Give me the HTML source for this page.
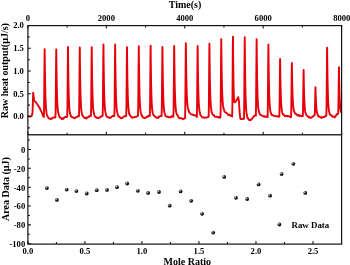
<!DOCTYPE html>
<html><head><meta charset="utf-8"><title>ITC chart</title>
<style>
html,body{margin:0;padding:0;background:#fff;}
body{width:350px;height:265px;overflow:hidden;}
svg{display:block;}
text{font-family:"Liberation Serif",serif;font-weight:bold;fill:#000;}
</style></head>
<body>
<svg width="350" height="265" viewBox="0 0 350 265">
<defs>
<radialGradient id="ball" cx="0.36" cy="0.34" r="0.7" fx="0.33" fy="0.3">
<stop offset="0" stop-color="#ffffff"/>
<stop offset="0.14" stop-color="#b0b0b0"/>
<stop offset="0.42" stop-color="#2c2c2c"/>
<stop offset="1" stop-color="#000000"/>
</radialGradient>
<filter id="soft" x="-5%" y="-5%" width="110%" height="110%" color-interpolation-filters="sRGB"><feGaussianBlur stdDeviation="0.25"/></filter>
</defs>
<rect width="350" height="265" fill="#ffffff"/>
<path d="M28.20,116.20 L30.50,116.50 L31.60,116.10 L32.50,113.00 L33.20,92.60 L33.70,97.50 L34.20,100.60 L35.20,101.60 L36.00,102.30 L36.80,103.60 L37.60,104.60 L38.40,106.00 L39.50,107.60 L40.50,109.80 L41.60,112.00 L42.60,114.40 L43.30,116.30 L43.80,116.90 L43.88,116.80 L44.07,108.59 L44.32,82.90 L44.55,57.21 L44.67,49.10 L44.85,65.93 L45.15,85.02 L45.45,96.78 L45.75,104.10 L46.05,108.72 L46.35,111.69 L46.65,113.65 L46.95,114.79 L47.25,115.56 L47.55,116.83 L47.85,116.75 L48.55,118.19 L49.25,118.61 L49.95,118.60 L50.66,119.15 L51.35,118.48 L52.05,118.63 L52.75,117.85 L53.45,117.48 L54.15,117.49 L54.85,117.66 L55.47,117.30 L55.66,109.06 L55.91,83.30 L56.15,57.54 L56.27,49.40 L56.45,65.93 L56.74,84.70 L57.05,96.27 L57.34,103.48 L57.65,108.02 L57.95,110.95 L58.24,112.88 L58.55,113.78 L58.84,114.83 L59.15,115.98 L59.45,116.87 L60.15,117.40 L60.84,117.84 L61.55,118.92 L62.25,118.15 L62.95,119.05 L63.65,118.16 L64.34,117.58 L65.05,117.07 L65.75,116.81 L66.44,117.02 L67.20,116.70 L67.41,108.24 L67.66,81.75 L67.88,55.26 L68.00,46.90 L68.19,64.25 L68.48,83.90 L68.78,96.00 L69.08,103.49 L69.38,108.18 L69.69,111.15 L69.98,113.09 L70.28,114.03 L70.58,115.36 L70.88,116.07 L71.19,116.26 L71.88,117.23 L72.58,117.21 L73.28,117.54 L73.98,117.86 L74.69,118.34 L75.38,117.80 L76.08,117.29 L76.78,117.15 L77.48,116.59 L78.18,116.11 L78.99,116.30 L79.19,107.96 L79.44,81.85 L79.67,55.74 L79.79,47.50 L79.97,64.60 L80.27,83.98 L80.57,95.90 L80.87,103.29 L81.17,107.93 L81.47,110.88 L81.77,112.80 L82.07,114.41 L82.37,115.20 L82.67,115.35 L82.97,116.21 L83.67,116.96 L84.37,117.88 L85.07,118.07 L85.77,117.76 L86.47,118.47 L87.17,117.26 L87.87,117.21 L88.57,117.14 L89.27,116.06 L89.97,116.11 L90.94,116.10 L91.14,107.74 L91.39,81.60 L91.61,55.46 L91.73,47.20 L91.92,64.32 L92.22,83.73 L92.52,95.68 L92.81,103.08 L93.11,107.73 L93.42,110.69 L93.72,112.62 L94.02,113.41 L94.31,115.00 L94.61,115.77 L94.91,116.06 L95.61,117.22 L96.31,117.15 L97.02,117.93 L97.72,117.99 L98.42,117.93 L99.11,117.54 L99.81,117.57 L100.52,117.25 L101.22,116.31 L101.91,116.21 L102.65,116.00 L102.85,107.33 L103.10,80.20 L103.33,53.07 L103.45,44.50 L103.63,62.27 L103.93,82.41 L104.23,94.81 L104.53,102.50 L104.83,107.32 L105.13,110.39 L105.43,112.39 L105.73,113.26 L106.03,114.90 L106.33,115.53 L106.63,116.43 L107.33,117.10 L108.03,117.09 L108.73,117.57 L109.43,118.07 L110.13,117.31 L110.83,117.52 L111.53,116.79 L112.23,116.28 L112.93,115.78 L113.63,116.23 L114.36,115.90 L114.56,107.24 L114.81,80.15 L115.04,53.06 L115.16,44.50 L115.34,62.24 L115.64,82.36 L115.94,94.74 L116.24,102.42 L116.54,107.23 L116.84,110.30 L117.14,112.30 L117.44,113.24 L117.74,114.31 L118.04,115.15 L118.34,116.20 L119.04,116.19 L119.74,117.17 L120.44,117.65 L121.14,118.20 L121.84,118.09 L122.54,117.88 L123.24,116.85 L123.94,116.56 L124.64,116.09 L125.34,116.35 L126.20,115.90 L126.41,107.56 L126.66,81.45 L126.88,55.34 L127.00,47.10 L127.19,64.20 L127.48,83.58 L127.78,95.51 L128.09,102.91 L128.38,107.55 L128.69,110.51 L128.98,112.45 L129.28,114.25 L129.59,114.28 L129.88,114.97 L130.19,115.54 L130.88,116.38 L131.59,117.22 L132.28,117.71 L132.98,117.53 L133.69,117.20 L134.38,117.39 L135.09,116.95 L135.78,116.73 L136.48,116.74 L137.19,116.14 L138.00,115.90 L138.20,107.46 L138.45,81.05 L138.68,54.64 L138.80,46.30 L138.98,63.60 L139.28,83.21 L139.58,95.27 L139.88,102.76 L140.18,107.45 L140.48,110.45 L140.78,112.40 L141.08,113.73 L141.38,114.77 L141.68,115.50 L141.98,115.33 L142.68,117.11 L143.38,117.54 L144.08,118.02 L144.78,118.11 L145.48,117.63 L146.18,117.39 L146.88,116.70 L147.58,116.86 L148.28,115.84 L148.98,115.54 L149.83,116.00 L150.03,107.48 L150.28,80.80 L150.51,54.12 L150.63,45.70 L150.81,63.17 L151.11,82.98 L151.41,95.17 L151.72,102.73 L152.01,107.47 L152.31,110.49 L152.61,112.46 L152.91,113.47 L153.22,114.34 L153.51,115.22 L153.81,115.42 L154.51,116.21 L155.22,116.95 L155.91,117.26 L156.61,117.73 L157.31,117.32 L158.01,118.01 L158.72,117.36 L159.41,116.43 L160.11,116.15 L160.81,115.95 L161.62,116.10 L161.83,107.71 L162.08,81.45 L162.31,55.19 L162.43,46.90 L162.61,63.98 L162.91,83.35 L163.21,95.28 L163.51,102.69 L163.81,107.34 L164.11,110.30 L164.41,112.23 L164.71,113.37 L165.01,114.00 L165.31,115.45 L165.61,116.10 L166.31,116.31 L167.01,116.85 L167.71,116.77 L168.41,117.00 L169.11,117.33 L169.81,117.13 L170.51,117.52 L171.21,116.50 L171.91,116.07 L172.61,116.88 L173.41,116.40 L173.61,107.86 L173.86,81.15 L174.09,54.44 L174.21,46.00 L174.39,63.21 L174.69,82.74 L174.99,94.79 L175.29,102.29 L175.59,107.00 L175.89,110.02 L176.19,112.00 L176.49,113.37 L176.79,113.89 L177.09,115.02 L177.39,114.98 L178.09,116.44 L178.79,117.60 L179.49,118.01 L180.19,118.27 L180.89,118.15 L181.59,118.53 L182.29,118.47 L182.99,119.16 L183.69,118.62 L184.39,118.50 L185.06,118.10 L185.26,109.04 L185.51,80.65 L185.74,52.26 L185.86,43.30 L186.04,59.77 L186.34,78.55 L186.64,90.23 L186.94,97.58 L187.24,102.29 L187.54,105.38 L187.84,107.46 L188.14,108.72 L188.44,109.67 L188.74,111.12 L189.04,111.95 L189.74,112.90 L190.44,113.64 L191.14,114.27 L191.84,114.67 L192.54,114.49 L193.24,115.13 L193.94,115.22 L194.64,115.08 L195.34,115.26 L196.04,115.71 L196.84,117.10 L197.04,108.48 L197.29,81.50 L197.52,54.52 L197.64,46.00 L197.82,63.08 L198.12,82.49 L198.42,94.49 L198.72,101.97 L199.02,106.70 L199.32,109.74 L199.62,111.73 L199.92,112.82 L200.22,114.24 L200.52,115.22 L200.82,115.19 L201.52,116.59 L202.22,117.24 L202.92,117.66 L203.62,117.35 L204.32,117.46 L205.02,117.65 L205.72,117.72 L206.42,117.49 L207.12,117.41 L207.82,117.16 L208.63,116.60 L208.84,107.75 L209.09,80.05 L209.31,52.35 L209.44,43.60 L209.62,61.09 L209.91,80.96 L210.22,93.23 L210.52,100.87 L210.81,105.68 L211.12,108.75 L211.41,110.76 L211.72,112.49 L212.02,113.03 L212.31,113.90 L212.62,114.57 L213.31,114.60 L214.02,115.78 L214.72,116.47 L215.41,116.66 L216.12,116.89 L216.81,116.81 L217.52,116.66 L218.22,117.48 L218.91,117.08 L219.62,117.68 L220.47,117.50 L220.67,108.00 L220.92,78.25 L221.15,48.50 L221.27,39.10 L221.45,56.53 L221.75,76.39 L222.05,88.72 L222.35,96.47 L222.65,101.42 L222.95,104.64 L223.25,106.81 L223.55,108.83 L223.85,109.29 L224.15,110.12 L224.45,111.37 L225.15,112.24 L225.85,112.42 L226.55,112.99 L227.25,113.51 L227.95,114.73 L228.65,114.95 L229.35,114.49 L230.05,115.46 L230.75,115.82 L231.45,115.64 L232.16,116.50 L232.37,106.82 L232.62,76.50 L232.84,46.18 L232.97,36.60 L233.15,56.46 L233.44,78.96 L233.75,92.78 L234.05,101.34 L234.34,102.03 L234.65,102.21 L234.94,102.39 L235.25,102.03 L235.55,101.63 L235.84,101.17 L236.15,100.71 L236.84,99.63 L237.55,98.63 L238.25,97.16 L238.94,101.44 L239.65,112.68 L240.34,118.64 L241.05,119.07 L241.75,118.98 L242.44,119.02 L243.15,118.78 L243.95,118.70 L244.16,108.83 L244.41,77.90 L244.63,46.97 L244.75,37.20 L244.94,57.46 L245.23,80.42 L245.53,94.55 L245.84,103.31 L246.13,108.80 L246.44,112.29 L246.73,114.55 L247.03,115.66 L247.34,117.56 L247.63,117.69 L247.94,118.36 L248.63,119.35 L249.34,120.18 L250.03,119.82 L250.73,120.17 L251.44,119.22 L252.13,118.57 L252.84,117.78 L253.53,116.45 L254.23,116.23 L254.94,115.45 L255.84,115.70 L256.04,106.42 L256.29,77.35 L256.52,48.28 L256.64,39.10 L256.82,57.78 L257.12,78.97 L257.42,92.02 L257.72,100.10 L258.02,105.16 L258.32,108.37 L258.62,110.45 L258.92,111.27 L259.22,113.09 L259.52,113.06 L259.82,113.89 L260.52,114.94 L261.22,115.26 L261.92,115.40 L262.62,115.92 L263.32,116.23 L264.02,116.70 L264.72,116.13 L265.42,116.78 L266.12,116.55 L266.82,116.65 L267.61,117.10 L267.81,108.30 L268.06,80.75 L268.29,53.20 L268.41,44.50 L268.59,61.86 L268.89,81.57 L269.19,93.72 L269.49,101.27 L269.79,106.01 L270.09,109.02 L270.39,110.97 L270.69,112.57 L270.99,113.17 L271.29,113.85 L271.59,114.53 L272.29,115.39 L272.99,115.30 L273.69,115.77 L274.39,115.86 L275.09,116.01 L275.79,116.31 L276.49,116.12 L277.19,116.27 L277.89,116.25 L278.59,116.80 L279.32,116.50 L279.52,109.51 L279.77,87.70 L280.00,65.89 L280.12,59.00 L280.31,72.75 L280.61,88.36 L280.90,97.99 L281.20,103.97 L281.50,107.74 L281.81,110.15 L282.11,111.72 L282.40,112.99 L282.70,113.92 L283.00,114.51 L283.31,114.16 L284.00,115.13 L284.70,115.98 L285.40,116.19 L286.11,115.67 L286.81,115.86 L287.50,116.38 L288.20,116.11 L288.90,116.41 L289.61,116.31 L290.31,117.03 L291.06,117.00 L291.26,110.42 L291.51,89.90 L291.75,69.38 L291.87,62.90 L292.05,74.94 L292.35,88.72 L292.64,97.33 L292.94,102.78 L293.25,106.29 L293.55,108.60 L293.85,110.17 L294.14,111.58 L294.44,112.51 L294.75,112.29 L295.05,113.38 L295.75,114.11 L296.44,114.06 L297.14,115.26 L297.85,115.62 L298.55,115.00 L299.25,115.96 L299.94,115.46 L300.64,115.64 L301.35,116.26 L302.05,116.15 L302.81,116.10 L303.00,110.47 L303.25,92.95 L303.49,75.43 L303.61,69.90 L303.79,81.19 L304.09,94.00 L304.38,101.91 L304.69,106.84 L304.99,109.96 L305.29,111.96 L305.59,113.28 L305.88,113.81 L306.19,114.75 L306.49,115.33 L306.79,115.52 L307.49,116.02 L308.19,116.65 L308.88,117.48 L309.59,117.01 L310.29,117.82 L310.99,117.80 L311.69,117.17 L312.38,116.89 L313.09,116.40 L313.79,115.55 L314.69,115.30 L314.89,111.84 L315.14,101.20 L315.38,90.56 L315.50,87.20 L315.68,94.17 L315.98,102.10 L316.27,107.01 L316.57,110.09 L316.88,112.07 L317.18,113.37 L317.48,114.27 L317.77,114.44 L318.07,115.94 L318.38,116.12 L318.68,116.66 L319.38,116.34 L320.07,116.99 L320.77,117.07 L321.48,118.02 L322.18,117.38 L322.88,116.96 L323.57,116.89 L324.27,117.00 L324.98,116.49 L325.68,115.57 L326.33,115.80 L326.53,107.54 L326.78,81.70 L327.01,55.86 L327.13,47.70 L327.31,64.34 L327.62,83.24 L327.91,94.89 L328.21,102.13 L328.51,106.67 L328.81,109.58 L329.12,111.47 L329.41,112.36 L329.71,114.09 L330.01,114.35 L330.31,114.97 L331.01,115.09 L331.71,115.59 L332.41,116.68 L333.12,116.67 L333.81,116.46 L334.51,117.40 L335.21,116.56 L335.91,115.92 L336.62,114.22 L337.31,114.32 L338.18,113.70 L338.38,108.02 L338.62,90.35 L338.86,72.68 L338.98,67.10 L339.16,78.68 L339.46,91.83 L339.75,99.96 L340.06,105.04 L340.36,108.28 L340.66,110.39 L340.96,111.82 L341.25,112.35" fill="none" stroke="#e60009" stroke-width="1.9" stroke-linejoin="round" stroke-linecap="round"/>
<g fill="none" stroke="#111" stroke-width="1.2" filter="url(#soft)">
<rect x="27.9" y="25.6" width="313.70000000000005" height="218.5"/>
<path d="M27.9,134.8 L341.6,134.8" stroke="#2e2e2e" stroke-width="1.6"/>
<path d="M27.90,25.60 L27.90,28.60 M27.90,134.80 L27.90,131.80 M67.11,25.60 L67.11,27.60 M67.11,134.80 L67.11,132.80 M106.33,25.60 L106.33,28.60 M106.33,134.80 L106.33,131.80 M145.54,25.60 L145.54,27.60 M145.54,134.80 L145.54,132.80 M184.75,25.60 L184.75,28.60 M184.75,134.80 L184.75,131.80 M223.96,25.60 L223.96,27.60 M223.96,134.80 L223.96,132.80 M263.18,25.60 L263.18,28.60 M263.18,134.80 L263.18,131.80 M302.39,25.60 L302.39,27.60 M302.39,134.80 L302.39,132.80 M341.60,25.60 L341.60,28.60 M341.60,134.80 L341.60,131.80 M27.90,127.86 L29.90,127.86 M27.90,116.50 L30.90,116.50 M27.90,105.14 L29.90,105.14 M27.90,93.78 L30.90,93.78 M27.90,82.41 L29.90,82.41 M27.90,71.05 L30.90,71.05 M27.90,59.69 L29.90,59.69 M27.90,48.32 L30.90,48.32 M27.90,36.96 L29.90,36.96 M27.90,244.10 L27.90,241.10 M56.41,244.10 L56.41,242.10 M84.92,244.10 L84.92,241.10 M113.43,244.10 L113.43,242.10 M141.94,244.10 L141.94,241.10 M170.45,244.10 L170.45,242.10 M198.96,244.10 L198.96,241.10 M227.47,244.10 L227.47,242.10 M255.98,244.10 L255.98,241.10 M284.49,244.10 L284.49,242.10 M313.00,244.10 L313.00,241.10 M341.51,244.10 L341.51,242.10 M27.90,243.70 L30.90,243.70 M27.90,234.28 L29.90,234.28 M27.90,224.86 L30.90,224.86 M27.90,215.44 L29.90,215.44 M27.90,206.02 L30.90,206.02 M27.90,196.60 L29.90,196.60 M27.90,187.18 L30.90,187.18 M27.90,177.76 L29.90,177.76 M27.90,168.34 L30.90,168.34 M27.90,158.92 L29.90,158.92 M27.90,149.50 L30.90,149.50 M27.90,140.08 L29.90,140.08" stroke-width="1.05"/>
</g>
<circle cx="46.9" cy="188.1" r="1.9" fill="url(#ball)"/><circle cx="56.9" cy="199.9" r="1.9" fill="url(#ball)"/><circle cx="66.7" cy="189.6" r="1.9" fill="url(#ball)"/><circle cx="76.4" cy="191.1" r="1.9" fill="url(#ball)"/><circle cx="86.7" cy="193.5" r="1.9" fill="url(#ball)"/><circle cx="96.7" cy="190.2" r="1.9" fill="url(#ball)"/><circle cx="107.0" cy="189.9" r="1.9" fill="url(#ball)"/><circle cx="117.0" cy="187.2" r="1.9" fill="url(#ball)"/><circle cx="127.2" cy="183.5" r="1.9" fill="url(#ball)"/><circle cx="137.8" cy="190.8" r="1.9" fill="url(#ball)"/><circle cx="148.1" cy="192.9" r="1.9" fill="url(#ball)"/><circle cx="159.0" cy="192.0" r="1.9" fill="url(#ball)"/><circle cx="169.7" cy="205.7" r="1.9" fill="url(#ball)"/><circle cx="180.6" cy="191.4" r="1.9" fill="url(#ball)"/><circle cx="191.2" cy="200.8" r="1.9" fill="url(#ball)"/><circle cx="202.1" cy="213.8" r="1.9" fill="url(#ball)"/><circle cx="213.2" cy="232.6" r="1.9" fill="url(#ball)"/><circle cx="224.2" cy="176.9" r="1.9" fill="url(#ball)"/><circle cx="236.0" cy="197.8" r="1.9" fill="url(#ball)"/><circle cx="247.2" cy="199.0" r="1.9" fill="url(#ball)"/><circle cx="258.6" cy="184.4" r="1.9" fill="url(#ball)"/><circle cx="270.1" cy="195.7" r="1.9" fill="url(#ball)"/><circle cx="281.6" cy="174.1" r="1.9" fill="url(#ball)"/><circle cx="293.4" cy="163.8" r="1.9" fill="url(#ball)"/><circle cx="305.3" cy="192.9" r="1.9" fill="url(#ball)"/><circle cx="279.4" cy="224.5" r="1.9" fill="url(#ball)"/>
<g filter="url(#soft)">
<text x="27.90" y="20.70" font-size="8.6" text-anchor="middle" >0</text>
<text x="106.33" y="20.70" font-size="8.6" text-anchor="middle" >2000</text>
<text x="184.75" y="20.70" font-size="8.6" text-anchor="middle" >4000</text>
<text x="263.18" y="20.70" font-size="8.6" text-anchor="middle" >6000</text>
<text x="341.80" y="20.70" font-size="8.6" text-anchor="middle" >8000</text>
<text x="23.90" y="119.30" font-size="8.6" text-anchor="end" >0.0</text>
<text x="23.90" y="96.58" font-size="8.6" text-anchor="end" >0.5</text>
<text x="23.90" y="73.85" font-size="8.6" text-anchor="end" >1.0</text>
<text x="23.90" y="51.12" font-size="8.6" text-anchor="end" >1.5</text>
<text x="23.90" y="28.40" font-size="8.6" text-anchor="end" >2.0</text>
<text x="25.20" y="152.90" font-size="8.6" text-anchor="end" >0</text>
<text x="25.20" y="171.74" font-size="8.6" text-anchor="end" >-20</text>
<text x="25.20" y="190.58" font-size="8.6" text-anchor="end" >-40</text>
<text x="25.20" y="209.42" font-size="8.6" text-anchor="end" >-60</text>
<text x="25.20" y="228.26" font-size="8.6" text-anchor="end" >-80</text>
<text x="25.20" y="247.10" font-size="8.6" text-anchor="end" >-100</text>
<text x="27.90" y="254.40" font-size="8.6" text-anchor="middle" >0.0</text>
<text x="84.92" y="254.40" font-size="8.6" text-anchor="middle" >0.5</text>
<text x="141.94" y="254.40" font-size="8.6" text-anchor="middle" >1.0</text>
<text x="198.96" y="254.40" font-size="8.6" text-anchor="middle" >1.5</text>
<text x="255.98" y="254.40" font-size="8.6" text-anchor="middle" >2.0</text>
<text x="313.00" y="254.40" font-size="8.6" text-anchor="middle" >2.5</text>
<text x="185.00" y="7.50" font-size="10" text-anchor="middle" >Time(s)</text>
<text x="187.30" y="264.80" font-size="10" text-anchor="middle" >Mole Ratio</text>
<text x="291.50" y="227.60" font-size="8.9" text-anchor="start" >Raw Data</text>
<text transform="translate(7.6,70.7) rotate(-90)" font-size="10" text-anchor="middle">Raw heat output(µJ/s)</text>
<text transform="translate(8.6,189) rotate(-90)" font-size="10" text-anchor="middle">Area Data (µJ)</text>
</g>
</svg>
</body></html>
